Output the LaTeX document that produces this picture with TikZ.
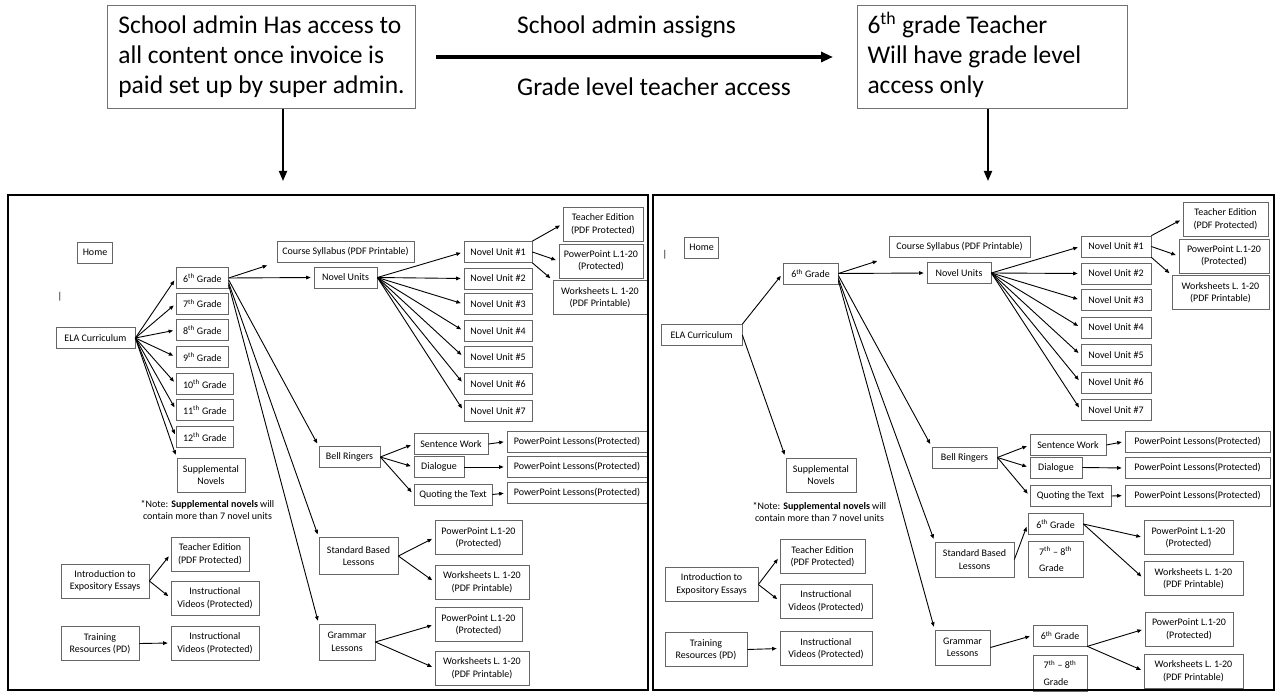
\documentclass[tikz,border=0pt]{standalone}
\usepackage{fontspec}
\setmainfont{Carlito}
\usetikzlibrary{arrows.meta}

\begin{document}
\begin{tikzpicture}[
  x=1pt, y=-1pt,
  font=\fontsize{10}{12.5}\selectfont,
  box/.style={draw=black!60, line width=0.7pt, inner xsep=5pt, inner ysep=5.5pt, minimum height=21pt, align=center},
  grade/.style={box, minimum width=52pt, anchor=west},
  unit/.style={box, minimum width=68pt},
  lesson/.style={box, minimum width=140pt},
  twoline/.style={box, minimum height=34pt},
  note/.style={inner sep=0pt, align=center},
  topbox/.style={draw=black!55, line width=1pt, minimum height=103pt, anchor=north west, font=\fontsize{25.5}{30}\selectfont},
  toplabel/.style={anchor=west, inner sep=0pt, font=\fontsize{25.5}{30}\selectfont},
  frame/.style={draw, line width=2.6pt},
  arr/.style={-{Triangle[length=4.5pt, width=3.6pt]}, line width=0.9pt, shorten >=3pt},
  bigarr/.style={-{Triangle[length=10pt, width=8pt]}, line width=1.8pt},
  widearr/.style={-{Triangle[length=12pt, width=10pt]}, line width=3.6pt},
]
  \useasboundingbox (0,0) rectangle (1280,695);

  % top: who gets which access
  \node[topbox, align=left, minimum width=308pt, inner xsep=4pt] (admin) at (107,5) {School admin Has access to\\all content once invoice is\\paid set up by super admin.};
  \node[topbox, inner xsep=10pt] (teacher) at (857,5) {\begin{tabular}{@{}p{250pt}@{}}6\textsuperscript{th} grade Teacher\\Will have grade level\\access only\end{tabular}};
  \node[toplabel] (assigns) at (517,27) {School admin assigns};
  \node[toplabel] (gradeaccess) at (517,87) {Grade level teacher access};
  \coordinate (adminend) at (283,181);
  \coordinate (teacherend) at (988,181);
  \draw[widearr, shorten <=20pt, shorten >=24pt] (admin.east) -- (teacher.west);
  \draw[bigarr] (admin.south -| adminend) -- (adminend);
  \draw[bigarr] (teacher.south -| teacherend) -- (teacherend);

  % ---------------- left panel: school admin view ----------------
  \node[box] (homeL) at (95,252.5) {Home};
  \node[inner sep=0pt] (cursorL) at (60,297) {|};
  \node[box, minimum width=79pt] (elaL) at (95.5,338) {ELA Curriculum};
  \foreach \g/\y in {6/278,7/303.5,8/330,9/357}
    \node[grade] (gL\g) at (176,\y) {\g\textsuperscript{th} Grade};
  \foreach \g/\y in {10/384,11/410,12/437}
    \node[grade, minimum width=57pt] (gL\g) at (176,\y) {\g\textsuperscript{th} Grade};
  \node[twoline, minimum width=68pt] (suppL) at (211,475) {Supplemental\\Novels};
  \node[note] (noteL) at (207.5,510) {*Note: \textbf{Supplemental novels} will\\contain more than 7 novel units};

  \node[box, minimum width=137pt] (csL) at (345.5,251.5) {Course Syllabus (PDF Printable)};
  \node[box, minimum width=63pt] (nuL) at (345.5,277.5) {Novel Units};
  \foreach \i/\y in {1/252,2/278.5,3/304,4/331,5/357,6/384,7/411}
    \node[unit] (uL\i) at (498,\y) {Novel Unit \#\i};
  \node[twoline, minimum width=80pt] (teL) at (603,224) {Teacher Edition\\(PDF Protected)};
  \node[twoline, minimum width=84pt] (ppL) at (601,261) {PowerPoint L.1-20\\(Protected)};
  \node[twoline, minimum width=94pt] (wsL) at (600,297.5) {Worksheets L. 1-20\\(PDF Printable)};

  \node[box, minimum width=61pt] (brL) at (349.5,457) {Bell Ringers};
  \node[box, minimum width=74pt] (swL) at (451,444) {Sentence Work};
  \node[box, minimum width=50pt] (dlL) at (439,467) {Dialogue};
  \node[box, minimum width=78pt] (qtL) at (453,494.5) {Quoting the Text};
  \foreach \i/\y in {1/441.5,2/467,3/493}
    \node[lesson] (plL\i) at (577,\y) {PowerPoint Lessons(Protected)};

  \node[twoline, minimum width=79pt, minimum height=37pt] (sblL) at (358.5,556) {Standard Based\\Lessons};
  \node[twoline, minimum width=87pt] (sppL) at (478.5,537.5) {PowerPoint L.1-20\\(Protected)};
  \node[twoline, minimum width=94pt] (swsL) at (482,582) {Worksheets L. 1-20\\(PDF Printable)};
  \node[twoline, minimum width=56pt, minimum height=36pt] (glL) at (347,642) {Grammar\\Lessons};
  \node[twoline, minimum width=87pt] (gppL) at (478.5,624.5) {PowerPoint L.1-20\\(Protected)};
  \node[twoline, minimum width=94pt] (gwsL) at (482,668) {Worksheets L. 1-20\\(PDF Printable)};

  \node[twoline, minimum width=78pt] (teiL) at (210,554) {Teacher Edition\\(PDF Protected)};
  \node[twoline, minimum width=88pt] (introL) at (105,581) {Introduction to\\Expository Essays};
  \node[twoline, minimum width=88pt] (vidL1) at (215,598) {Instructional\\Videos (Protected)};
  \node[twoline, minimum width=78pt] (trL) at (100,643.5) {Training\\Resources (PD)};
  \node[twoline, minimum width=88pt] (vidL2) at (215,643) {Instructional\\Videos (Protected)};

  \foreach \g in {6,...,12}
    \draw[arr] (elaL.east) -- (gL\g.west);
  \draw[arr] (elaL.east) -- (suppL.north west);
  \draw[arr, shorten >=10pt] (gL6.east) -- (csL.south west);
  \draw[arr] (gL6.east) -- (nuL.west);
  \draw[arr] ([yshift=-2pt]gL6.east) -- (brL.north west);
  \draw[arr] ([yshift=-5pt]gL6.east) -- (sblL.north west);
  \draw[arr] ([yshift=-7pt]gL6.east) -- (glL.north west);
  \foreach \i in {1,...,7}
    \draw[arr] (nuL.east) -- (uL\i.west);
  \draw[arr] (uL1.north east) -- (teL.west);
  \draw[arr] (uL1.east) -- (ppL.west);
  \draw[arr] (uL1.south east) -- (wsL.north west);
  \draw[arr] (brL.east) -- (swL.west);
  \draw[arr] (brL.east) -- (dlL.west);
  \draw[arr] (brL.east) -- (qtL.west);
  \draw[arr] (swL.east) -- (plL1.west);
  \draw[arr] (dlL.east) -- (plL2.west);
  \draw[arr] (qtL.east) -- (plL3.west);
  \draw[arr] (sblL.east) -- (sppL.west);
  \draw[arr] (sblL.east) -- (swsL.west);
  \draw[arr] (glL.east) -- (gppL.west);
  \draw[arr] (glL.east) -- (gwsL.west);
  \draw[arr] (introL.east) -- (teiL.west);
  \draw[arr] (introL.east) -- (vidL1.west);
  \draw[arr] (trL.east) -- (vidL2.west);

  % ---------------- right panel: 6th grade teacher view ----------------
  \node[box] (homeR) at (701.5,247.5) {Home};
  \node[inner sep=0pt] (cursorR) at (665,255) {|};
  \node[box, minimum width=81pt] (elaR) at (701.5,335) {ELA Curriculum};
  \node[box, minimum width=55pt] (gR6) at (810.5,273.5) {6\textsuperscript{th} Grade};
  \node[box, minimum width=141pt] (csR) at (959.5,246.5) {Course Syllabus (PDF Printable)};
  \node[box, minimum width=64pt] (nuR) at (959,273) {Novel Units};
  \foreach \i/\y in {1/246.5,2/273.5,3/300,4/327.5,5/355,6/382.5,7/410}
    \node[unit, minimum width=70pt] (uR\i) at (1116,\y) {Novel Unit \#\i};
  \node[twoline, minimum width=85pt] (teR) at (1225.5,219) {Teacher Edition\\(PDF Protected)};
  \node[twoline, minimum width=90pt] (ppR) at (1224,256) {PowerPoint L.1-20\\(Protected)};
  \node[twoline, minimum width=97pt] (wsR) at (1220.5,292.5) {Worksheets L. 1-20\\(PDF Printable)};
  \node[twoline, minimum width=70pt] (suppR) at (821,475) {Supplemental\\Novels};
  \node[note] (noteR) at (819.5,512) {*Note: \textbf{Supplemental novels} will\\contain more than 7 novel units};

  \node[box, minimum width=65pt] (brR) at (964.5,457.5) {Bell Ringers};
  \node[box, minimum width=76pt] (swR) at (1068,445) {Sentence Work};
  \node[box, minimum width=52pt] (dlR) at (1056,467.5) {Dialogue};
  \node[box, minimum width=81pt] (qtR) at (1070.5,496) {Quoting the Text};
  \foreach \i/\y in {1/441.5,2/468,3/495.5}
    \node[lesson, minimum width=145pt] (plR\i) at (1197.5,\y) {PowerPoint Lessons(Protected)};

  \node[twoline, minimum width=79pt, minimum height=35pt] (sblR) at (974.5,559.5) {Standard Based\\Lessons};
  \node[box, minimum width=55pt] (sg6R) at (1055.5,524) {6\textsuperscript{th} Grade};
  \node[twoline, minimum width=55pt, minimum height=35pt, align=left] (sg78R) at (1055.5,559.5) {7\textsuperscript{th} -- 8\textsuperscript{th}\\[4pt]Grade};
  \node[twoline, minimum width=89pt] (sppR) at (1188.5,537.5) {PowerPoint L.1-20\\(Protected)};
  \node[twoline, minimum width=99pt] (swsR) at (1193.5,578.5) {Worksheets L. 1-20\\(PDF Printable)};
  \node[twoline, minimum width=55pt, minimum height=35pt] (glR) at (962.5,647.5) {Grammar\\Lessons};
  \node[box, minimum width=54pt] (gg6R) at (1060,635.5) {6\textsuperscript{th} Grade};
  \node[twoline, minimum width=54pt, minimum height=34pt, align=left] (gg78R) at (1060,673) {7\textsuperscript{th} -- 8\textsuperscript{th}\\[4pt]Grade};
  \node[twoline, minimum width=88pt] (gppR) at (1189,629) {PowerPoint L.1-20\\(Protected)};
  \node[twoline, minimum width=99pt] (gwsR) at (1193.5,671) {Worksheets L. 1-20\\(PDF Printable)};

  \node[twoline, minimum width=85pt] (teiR) at (822.5,556.5) {Teacher Edition\\(PDF Protected)};
  \node[twoline, minimum width=93pt] (introR) at (711.5,584.5) {Introduction to\\Expository Essays};
  \node[twoline, minimum width=92pt] (vidR1) at (826,601) {Instructional\\Videos (Protected)};
  \node[twoline, minimum width=82pt] (trR) at (706,649.5) {Training\\Resources (PD)};
  \node[twoline, minimum width=92pt] (vidR2) at (826,648.5) {Instructional\\Videos (Protected)};

  \draw[arr] (elaR.north east) -- (gR6.west);
  \draw[arr] (elaR.east) -- (suppR.north west);
  \draw[arr, shorten >=12pt] (gR6.east) -- (csR.south west);
  \draw[arr] (gR6.east) -- (nuR.west);
  \draw[arr] ([yshift=-2pt]gR6.east) -- (brR.north west);
  \draw[arr] ([yshift=-5pt]gR6.east) -- (sblR.north west);
  \draw[arr] ([yshift=-7pt]gR6.east) -- (glR.north west);
  \foreach \i in {1,...,7}
    \draw[arr] (nuR.east) -- (uR\i.west);
  \draw[arr] (uR1.north east) -- (teR.west);
  \draw[arr] (uR1.east) -- (ppR.west);
  \draw[arr] (uR1.south east) -- (wsR.north west);
  \draw[arr] (brR.east) -- (swR.west);
  \draw[arr] (brR.east) -- (dlR.west);
  \draw[arr] (brR.east) -- (qtR.west);
  \draw[arr] (swR.east) -- (plR1.west);
  \draw[arr] (dlR.east) -- (plR2.west);
  \draw[arr] (qtR.east) -- (plR3.west);
  \draw[arr] (sblR.east) -- (sg6R.west);
  \draw[arr] (sg6R.east) -- (sppR.west);
  \draw[arr] (sg6R.east) -- (swsR.west);
  \draw[arr] (glR.east) -- (gg6R.west);
  \draw[arr] (gg6R.south east) -- (gppR.west);
  \draw[arr] (gg6R.south east) -- (gwsR.west);
  \draw[arr] (introR.east) -- (teiR.west);
  \draw[arr] (introR.east) -- (vidR1.west);
  \draw[arr] (trR.east) -- (vidR2.west);

  % panel frames
  \draw[frame] (8,195) rectangle (648,690);
  \draw[frame] (653,195) rectangle (1274,690);
\end{tikzpicture}
\end{document}
